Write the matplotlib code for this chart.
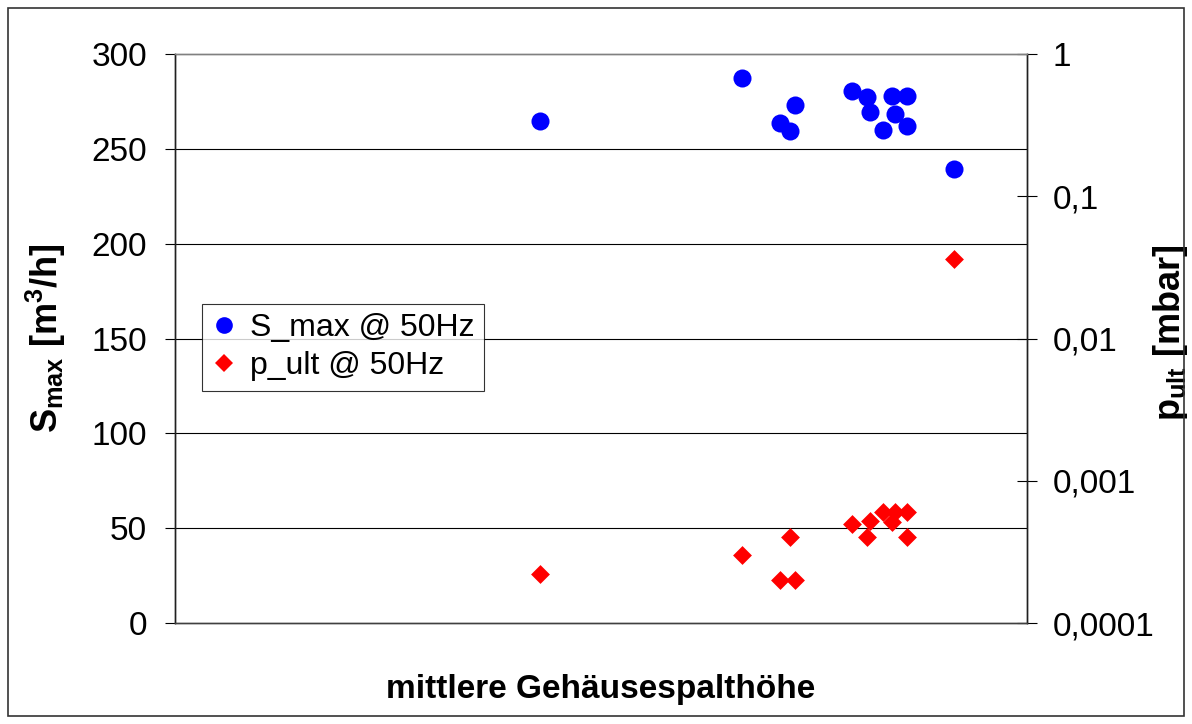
import numpy as np
import matplotlib.pyplot as plt
from matplotlib.lines import Line2D
from matplotlib.patches import Rectangle
from matplotlib.ticker import FixedLocator, FixedFormatter, NullLocator

plt.rcParams['font.family'] = ['Liberation Sans', 'DejaVu Sans']
plt.rcParams['mathtext.fontset'] = 'custom'
plt.rcParams['mathtext.rm'] = 'Liberation Sans'
plt.rcParams['mathtext.bf'] = 'Liberation Sans:bold'
plt.rcParams['mathtext.it'] = 'Liberation Sans:italic'

# mittlere Gehaeusespalthoehe (relative position, no scale shown)
spalt = [42.8, 66.6, 71.0, 72.2, 72.8, 79.5, 81.2, 81.6, 83.1, 84.2, 84.5, 85.9, 85.9, 91.4]
# S_max @ 50Hz [m3/h]
s_max = [264.8, 287.1, 263.7, 259.2, 273.2, 280.6, 277.1, 269.4, 260.0, 278.0, 268.5, 278.0, 262.0, 239.5]
# p_ult @ 50Hz [mbar]
p_ult = [2.2e-4, 3.0e-4, 2.0e-4, 4.0e-4, 2.0e-4, 5.0e-4, 4.0e-4, 5.2e-4, 6.0e-4, 5.1e-4, 6.0e-4, 6.0e-4, 4.0e-4, 0.0364]

left_ticks = [0, 50, 100, 150, 200, 250, 300]
right_ticks = [1e-4, 1e-3, 1e-2, 1e-1, 1]
right_labels = ['0,0001', '0,001', '0,01', '0,1', '1']

fig = plt.figure(figsize=(11.92, 7.24), dpi=100)
ax = fig.add_axes([175 / 1192, 1 - 623 / 724, 852 / 1192, 569 / 724])
ax2 = ax.twinx()

# outer chart frame
fig.patches.append(Rectangle((8 / 1192, 8 / 724), 1176 / 1192, 708 / 724,
                             transform=fig.transFigure, fill=False,
                             edgecolor='#333333', linewidth=1.2))

ax.scatter(spalt, s_max, s=13 ** 2, marker='o', color='#0000ff', linewidths=0, zorder=3)
ax2.scatter(spalt, p_ult, s=9.6 ** 2, marker='D', color='#ff0000', linewidths=0, zorder=3)

ax.set_xlim(0, 100)
ax.set_ylim(0, 300)
ax.xaxis.set_major_locator(NullLocator())
ax.set_yticks(left_ticks)
for y in left_ticks[1:-1]:
    ax.axhline(y, color='black', linewidth=0.8, zorder=1)

ax2.set_yscale('log')
ax2.set_ylim(1e-4, 1)
ax2.yaxis.set_major_locator(FixedLocator(right_ticks))
ax2.yaxis.set_major_formatter(FixedFormatter(right_labels))
ax2.yaxis.set_minor_locator(NullLocator())

ax.tick_params(axis='y', direction='out', length=7, width=0.8, pad=13, labelsize=24)
ax2.tick_params(axis='y', direction='inout', length=15, width=0.8, pad=11, labelsize=24)

for a in (ax, ax2):
    a.spines['top'].set_color('#808080')
    a.spines['bottom'].set_color('#404040')
    a.spines['left'].set_color('#202020')
    a.spines['right'].set_color('#202020')
    for sp in a.spines.values():
        sp.set_linewidth(1.0)

ax.set_ylabel(r'$\mathbf{S_{max}}$ $\mathbf{[m^3/h]}$', fontsize=26)
ax.yaxis.set_label_coords(-0.125, 0.5)
ax2.set_ylabel(r'$\mathbf{p_{ult}}$ $\mathbf{[mbar]}$', fontsize=26, rotation=90)
ax2.yaxis.set_label_coords(1.146, 0.51)
ax.set_xlabel('mittlere Gehäusespalthöhe', fontsize=24, fontweight='bold')
ax.xaxis.set_label_coords(0.5, -0.09)

handles = [
    Line2D([], [], linestyle='none', marker='o', markersize=12, color='#0000ff', markeredgewidth=0),
    Line2D([], [], linestyle='none', marker='D', markersize=9, color='#ff0000', markeredgewidth=0),
]
leg = ax2.legend(handles, ['S_max @ 50Hz', 'p_ult @ 50Hz'], loc='lower left',
                 bbox_to_anchor=(202 / 1192, 1 - 391 / 724), bbox_transform=fig.transFigure,
                 borderaxespad=0, fontsize=23, frameon=True, fancybox=False,
                 handlelength=0.8, handletextpad=0.4, borderpad=0.3, labelspacing=0.25)
leg.get_frame().set_edgecolor('black')
leg.get_frame().set_linewidth(0.8)

fig.savefig('out.png', dpi=100)
